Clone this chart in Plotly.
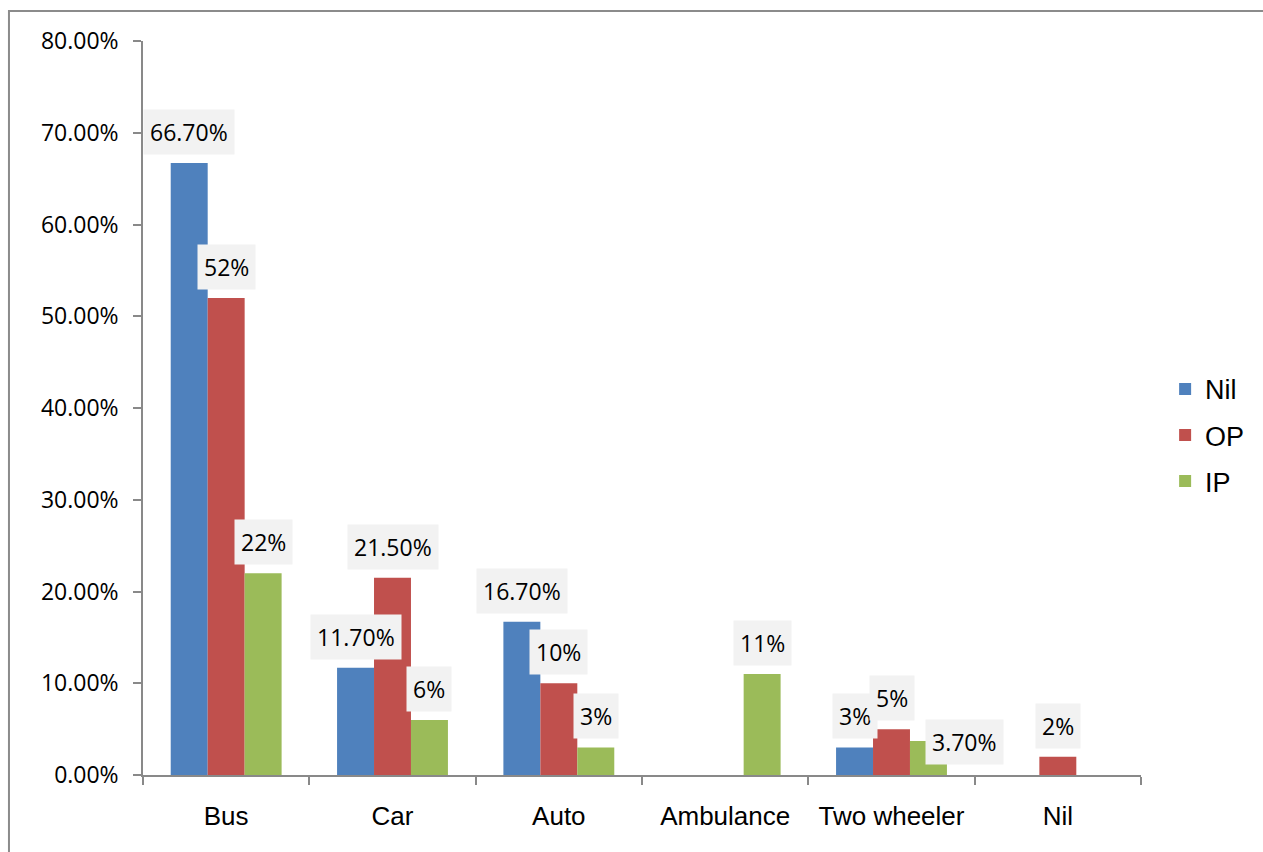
import plotly.graph_objects as go

# Transport mode by patient group
categories = ["Bus", "Car", "Auto", "Ambulance", "Two wheeler", "Nil"]
series_names = ["Nil", "OP", "IP"]
nil_values = [0.667, 0.117, 0.167, None, 0.03, None]
op_values = [0.52, 0.215, 0.10, None, 0.05, 0.02]
ip_values = [0.22, 0.06, 0.03, 0.11, 0.037, None]
nil_labels = ["66.70%", "11.70%", "16.70%", None, "3%", None]
op_labels = ["52%", "21.50%", "10%", None, "5%", "2%"]
ip_labels = ["22%", "6%", "3%", "11%", "3.70%", None]

colors = ["#4F81BD", "#C0504D", "#9BBB59"]
BARGAP = 1 / 3

fig = go.Figure()
all_values = [nil_values, op_values, ip_values]
all_labels = [nil_labels, op_labels, ip_labels]
for name, vals, col in zip(series_names, all_values, colors):
    fig.add_trace(go.Bar(
        x=categories, y=vals, name=name, legendgroup=name,
        marker=dict(color=col, line=dict(width=0)),
    ))

# Value labels in light grey boxes above each bar
bar_w = (1 - BARGAP) / len(series_names)
for k, (vals, labs) in enumerate(zip(all_values, all_labels)):
    for i, (v, lab) in enumerate(zip(vals, labs)):
        if v is None or lab is None:
            continue
        xs, ys = 0, 8
        if categories[i] == "Two wheeler" and series_names[k] == "IP":
            # this label sits beside its bar instead of on top
            xs, ys = 36, -24
        fig.add_annotation(
            x=i + (k - 1) * bar_w, y=v, xref="x", yref="y",
            text=lab, showarrow=False, yanchor="bottom",
            xshift=xs, yshift=ys,
            bgcolor="#F2F2F2", borderpad=6,
            font=dict(family="Open Sans", size=23, color="#000000"),
        )

# Outer chart frame
fig.add_shape(type="rect", xref="paper", yref="paper",
              x0=-0.1343, x1=1.3, y0=-0.3, y1=1.0409,
              line=dict(color="#8B8B8B", width=2), fillcolor="rgba(0,0,0,0)",
              layer="below")

fig.update_layout(
    width=1263, height=852,
    margin=dict(l=143, r=122, t=41, b=77),
    paper_bgcolor="white", plot_bgcolor="white",
    barmode="group", bargap=BARGAP, bargroupgap=0,
    showlegend=True,
    legend=dict(
        xref="container", yref="container",
        x=0.9225, y=0.489, xanchor="left", yanchor="middle",
        font=dict(family="Liberation Sans, Arial", size=27, color="#000000"),
        tracegroupgap=8, bgcolor="rgba(0,0,0,0)",
    ),
    xaxis=dict(
        type="category", showgrid=False, showline=True,
        linecolor="#898989", linewidth=1.5,
        ticks="outside", tickson="boundaries", ticklen=8,
        tickcolor="#898989", tickwidth=1.5,
        tickfont=dict(family="Liberation Sans, Arial", size=26, color="#000000"),
        ticklabelstandoff=17,
    ),
    yaxis=dict(
        range=[0, 0.8], dtick=0.1, tickformat=".2%",
        showgrid=False, zeroline=False, showline=True,
        linecolor="#898989", linewidth=1.5,
        ticks="outside", ticklen=8, tickcolor="#898989", tickwidth=1.5,
        tickfont=dict(family="Open Sans", size=23, color="#000000"),
        ticklabelstandoff=10,
    ),
)

fig.write_html("out.html")
